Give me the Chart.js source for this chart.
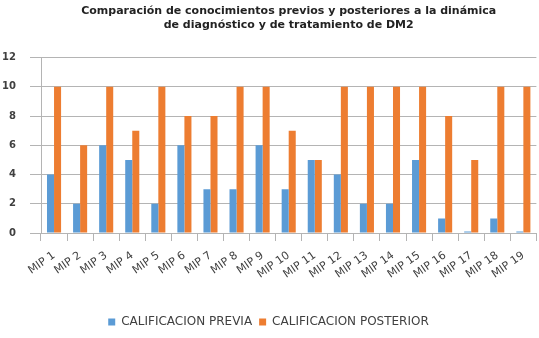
<!DOCTYPE html>
<html>
<head>
<meta charset="utf-8">
<script src="https://cdn.jsdelivr.net/npm/chart.js@4/dist/chart.umd.min.js"></script>
<style>
  html, body { margin: 0; padding: 0; background: #fff; }
  #wrap { width: 539px; height: 338px; }
</style>
</head>
<body>
<div id="wrap"><canvas id="grafica"></canvas></div>
<script>
// ---------- Datos ----------
const categorias = ["MIP 1", "MIP 2", "MIP 3", "MIP 4", "MIP 5", "MIP 6", "MIP 7", "MIP 8", "MIP 9", "MIP 10",
  "MIP 11", "MIP 12", "MIP 13", "MIP 14", "MIP 15", "MIP 16", "MIP 17", "MIP 18", "MIP 19"];

const califPrevia = [4, 2, 6, 5, 2, 6, 3, 3, 6, 3, 5, 4, 2, 2, 5, 1, 0.1, 1, 0.1];
const califPosterior = [10, 6, 10, 7, 10, 8, 8, 10, 10, 7, 5, 10, 10, 10, 10, 8, 5, 10, 10];

const tituloLineas = [
  "Comparación de conocimientos previos y posteriores a la dinámica",
  "de diagnóstico y de tratamiento de DM2"
];

// ---------- Estilos ----------
const fuente = "'DejaVu Sans', sans-serif";
const gris = "#b4b4b4";
const texto = "#404040";

const ctx = document.getElementById('grafica').getContext('2d');
new Chart(ctx, {
  type: 'bar',
  data: {
    labels: categorias,
    datasets: [
      { label: 'CALIFICACION PREVIA', data: califPrevia, backgroundColor: '#5B9BD5' },
      { label: 'CALIFICACION POSTERIOR', data: califPosterior, backgroundColor: '#ED7D31' }
    ]
  },
  options: {
    responsive: true,
    maintainAspectRatio: false,
    animation: false,
    layout: { padding: { top: 2, right: 2, left: 0, bottom: 0 } },
    datasets: { bar: { categoryPercentage: 0.54, barPercentage: 1.0 } },
    plugins: {
      title: {
        display: true,
        fullSize: false,
        text: tituloLineas,
        color: '#222',
        font: { family: fuente, size: 11, weight: 'bold', lineHeight: 1.3 },
        padding: { top: 2, bottom: 25 }
      },
      legend: {
        position: 'bottom',
        labels: {
          color: texto,
          font: { family: fuente, size: 12 },
          boxWidth: 7,
          boxHeight: 7,
          padding: 7
        }
      },
      tooltip: { enabled: false }
    },
    scales: {
      x: {
        offset: true,
        grid: { display: true, drawOnChartArea: false, drawTicks: true, tickLength: 8, color: gris },
        border: { display: true, color: gris },
        ticks: {
          color: texto,
          font: { family: fuente, size: 11 },
          minRotation: 35,
          maxRotation: 35,
          autoSkip: false,
          padding: 8
        },
        afterFit: (scale) => { scale.height = 76; }
      },
      y: {
        min: 0,
        max: 12,
        ticks: {
          stepSize: 2,
          color: texto,
          font: { family: fuente, size: 10, weight: 'bold' },
          padding: 14
        },
        grid: { color: gris, tickLength: 11 },
        border: { display: true, color: gris },
        afterFit: (scale) => { scale.width = 41; }
      }
    }
  }
});
</script>
</body>
</html>
